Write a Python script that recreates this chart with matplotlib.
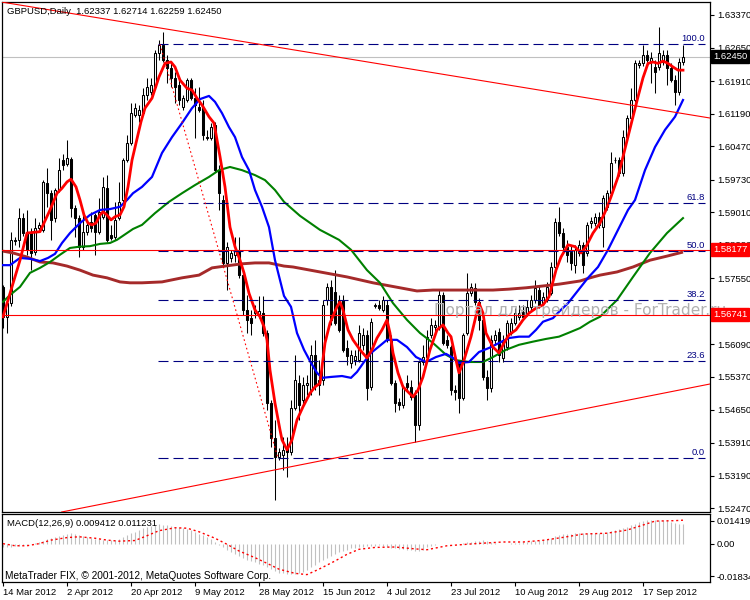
import matplotlib
matplotlib.use("Agg")
import matplotlib.pyplot as plt
import numpy as np
from matplotlib.transforms import blended_transform_factory

plt.rcParams['font.family'] = ['Liberation Sans', 'DejaVu Sans']

# ---------------- data ----------------
title_text = "GBPUSD,Daily  1.62337 1.62714 1.62259 1.62450"

opens = [1.5736, 1.5670, 1.5700, 1.5840, 1.5840, 1.5888, 1.5858, 1.5858, 1.5814, 1.5866,
         1.5862, 1.5965, 1.5943, 1.5888, 1.5950, 1.6016, 1.6007, 1.6019, 1.5910, 1.5888,
         1.5825, 1.5858, 1.5880, 1.5895, 1.5858, 1.5891, 1.5954, 1.5851, 1.5847, 1.5888,
         1.5928, 1.6016, 1.6054, 1.6116, 1.6116, 1.6120, 1.6160, 1.6167, 1.6178, 1.6253,
         1.6271, 1.6237, 1.6219, 1.6197, 1.6182, 1.6134, 1.6149, 1.6193, 1.6153, 1.6134,
         1.6131, 1.6068, 1.6065, 1.6094, 1.5994, 1.5928, 1.5788, 1.5800, 1.5807, 1.5818,
         1.5762, 1.5685, 1.5667, 1.5678, 1.5676, 1.5678, 1.5634, 1.5479, 1.5402, 1.5360,
         1.5364, 1.5380, 1.5371, 1.5468, 1.5523, 1.5486, 1.5519, 1.5508, 1.5586, 1.5519,
         1.5530, 1.5707, 1.5736, 1.5725, 1.5707, 1.5707, 1.5601, 1.5567, 1.5574, 1.5574,
         1.5608, 1.5630, 1.5515, 1.5694, 1.5696, 1.5685, 1.5696, 1.5619, 1.5523, 1.5481,
         1.5475, 1.5523, 1.5515, 1.5497, 1.5431, 1.5570, 1.5581, 1.5630, 1.5648, 1.5648,
         1.5718, 1.5619, 1.5604, 1.5508, 1.5570, 1.5490, 1.5634, 1.5722, 1.5733, 1.5703,
         1.5663, 1.5537, 1.5512, 1.5619, 1.5637, 1.5579, 1.5604, 1.5634, 1.5656, 1.5670,
         1.5681, 1.5678, 1.5692, 1.5707, 1.5729, 1.5700, 1.5707, 1.5722, 1.5780, 1.5880,
         1.5855, 1.5825, 1.5814, 1.5784, 1.5811, 1.5829, 1.5811, 1.5877, 1.5877, 1.5891,
         1.5869, 1.5913, 1.5943, 1.6016, 1.6016, 1.5988, 1.6068, 1.6109, 1.6149, 1.6226,
         1.6230, 1.6249, 1.6233, 1.6222, 1.6222, 1.6233, 1.6249, 1.6219, 1.6193, 1.6167,
         1.62337]

highs = [1.5740, 1.5714, 1.5858, 1.5847, 1.5910, 1.5899, 1.5906, 1.5866, 1.5888, 1.5880,
         1.5972, 1.5998, 1.5950, 1.5954, 1.6021, 1.6030, 1.6061, 1.6024, 1.5917, 1.5895,
         1.5895, 1.5884, 1.5902, 1.5899, 1.5932, 1.5979, 1.5983, 1.5873, 1.5924, 1.5968,
         1.6021, 1.6072, 1.6142, 1.6142, 1.6138, 1.6175, 1.6197, 1.6197, 1.6260, 1.6282,
         1.6300, 1.6249, 1.6233, 1.6211, 1.6193, 1.6160, 1.6197, 1.6197, 1.6175, 1.6178,
         1.6149, 1.6083, 1.6098, 1.6101, 1.6005, 1.5939, 1.5836, 1.5818, 1.5847, 1.5847,
         1.5773, 1.5718, 1.5685, 1.5696, 1.5716, 1.5716, 1.5641, 1.5486, 1.5442, 1.5380,
         1.5405, 1.5405, 1.5486, 1.5586, 1.5541, 1.5536, 1.5541, 1.5608, 1.5619, 1.5574,
         1.5707, 1.5744, 1.5751, 1.5773, 1.5718, 1.5718, 1.5619, 1.5597, 1.5597, 1.5652,
         1.5645, 1.5641, 1.5667, 1.5700, 1.5707, 1.5716, 1.5707, 1.5630, 1.5530, 1.5490,
         1.5519, 1.5541, 1.5530, 1.5508, 1.5574, 1.5608, 1.5641, 1.5667, 1.5663, 1.5729,
         1.5725, 1.5630, 1.5608, 1.5519, 1.5574, 1.5634, 1.5766, 1.5744, 1.5744, 1.5712,
         1.5667, 1.5552, 1.5630, 1.5641, 1.5645, 1.5630, 1.5663, 1.5667, 1.5689, 1.5696,
         1.5696, 1.5707, 1.5718, 1.5751, 1.5740, 1.5725, 1.5747, 1.5791, 1.5888, 1.5913,
         1.5866, 1.5840, 1.5829, 1.5829, 1.5840, 1.5836, 1.5880, 1.5891, 1.5899, 1.5902,
         1.5939, 1.5950, 1.6034, 1.6024, 1.6024, 1.6083, 1.6116, 1.6175, 1.6237, 1.6237,
         1.6271, 1.6260, 1.6256, 1.6237, 1.6310, 1.6260, 1.6260, 1.6230, 1.6204, 1.6242,
         1.62714]

lows = [1.5645, 1.5634, 1.5694, 1.5829, 1.5825, 1.5849, 1.5807, 1.5773, 1.5807, 1.5862,
        1.5858, 1.5913, 1.5840, 1.5880, 1.5946, 1.5994, 1.6003, 1.5891, 1.5847, 1.5803,
        1.5818, 1.5851, 1.5858, 1.5807, 1.5853, 1.5886, 1.5836, 1.5840, 1.5840, 1.5884,
        1.5924, 1.6012, 1.6050, 1.6112, 1.6101, 1.6116, 1.6149, 1.6160, 1.6173, 1.6237,
        1.6233, 1.6186, 1.6178, 1.6142, 1.6138, 1.6127, 1.6145, 1.6149, 1.6065, 1.6123,
        1.6061, 1.6061, 1.6061, 1.5990, 1.5906, 1.5784, 1.5729, 1.5791, 1.5791, 1.5755,
        1.5674, 1.5634, 1.5630, 1.5667, 1.5667, 1.5627, 1.5464, 1.5382, 1.5265, 1.5353,
        1.5331, 1.5316, 1.5364, 1.5464, 1.5442, 1.5475, 1.5497, 1.5497, 1.5508, 1.5497,
        1.5519, 1.5696, 1.5652, 1.5652, 1.5637, 1.5592, 1.5563, 1.5557, 1.5563, 1.5570,
        1.5597, 1.5486, 1.5508, 1.5689, 1.5685, 1.5681, 1.5615, 1.5519, 1.5460, 1.5464,
        1.5468, 1.5508, 1.5486, 1.5393, 1.5420, 1.5563, 1.5574, 1.5623, 1.5637, 1.5641,
        1.5608, 1.5601, 1.5497, 1.5486, 1.5457, 1.5486, 1.5630, 1.5716, 1.5696, 1.5641,
        1.5530, 1.5486, 1.5504, 1.5608, 1.5570, 1.5570, 1.5597, 1.5630, 1.5652, 1.5663,
        1.5663, 1.5672, 1.5685, 1.5700, 1.5689, 1.5694, 1.5703, 1.5718, 1.5773, 1.5849,
        1.5818, 1.5791, 1.5773, 1.5766, 1.5805, 1.5766, 1.5805, 1.5866, 1.5871, 1.5866,
        1.5825, 1.5906, 1.5939, 1.6010, 1.5981, 1.5981, 1.6061, 1.6105, 1.6145, 1.6219,
        1.6224, 1.6226, 1.6186, 1.6164, 1.6215, 1.6226, 1.6182, 1.6188, 1.6138, 1.6160,
        1.62259]

closes = [1.5670, 1.5700, 1.5840, 1.5838, 1.5888, 1.5855, 1.5818, 1.5811, 1.5866, 1.5873,
          1.5968, 1.5943, 1.5884, 1.5950, 1.5994, 1.6005, 1.6021, 1.5910, 1.5888, 1.5825,
          1.5858, 1.5873, 1.5866, 1.5858, 1.5902, 1.5957, 1.5840, 1.5844, 1.5884, 1.5924,
          1.6016, 1.6054, 1.6120, 1.6131, 1.6127, 1.6160, 1.6178, 1.6182, 1.6253, 1.6271,
          1.6237, 1.6219, 1.6197, 1.6178, 1.6149, 1.6153, 1.6193, 1.6153, 1.6138, 1.6127,
          1.6072, 1.6065, 1.6090, 1.5994, 1.5943, 1.5788, 1.5825, 1.5811, 1.5818, 1.5762,
          1.5685, 1.5663, 1.5656, 1.5685, 1.5683, 1.5634, 1.5479, 1.5402, 1.5360, 1.5371,
          1.5376, 1.5371, 1.5468, 1.5530, 1.5475, 1.5519, 1.5523, 1.5586, 1.5519, 1.5530,
          1.5696, 1.5736, 1.5663, 1.5656, 1.5641, 1.5597, 1.5583, 1.5586, 1.5583, 1.5634,
          1.5630, 1.5512, 1.5659, 1.5696, 1.5689, 1.5707, 1.5619, 1.5523, 1.5479, 1.5475,
          1.5512, 1.5515, 1.5493, 1.5431, 1.5570, 1.5581, 1.5626, 1.5652, 1.5652, 1.5718,
          1.5612, 1.5608, 1.5508, 1.5504, 1.5490, 1.5630, 1.5722, 1.5736, 1.5703, 1.5663,
          1.5537, 1.5512, 1.5619, 1.5630, 1.5586, 1.5619, 1.5656, 1.5656, 1.5678, 1.5678,
          1.5670, 1.5692, 1.5707, 1.5733, 1.5696, 1.5714, 1.5736, 1.5780, 1.5880, 1.5855,
          1.5825, 1.5807, 1.5788, 1.5818, 1.5829, 1.5784, 1.5873, 1.5882, 1.5891, 1.5873,
          1.5932, 1.5943, 1.6010, 1.6016, 1.5988, 1.6068, 1.6109, 1.6149, 1.6230, 1.6230,
          1.6249, 1.6237, 1.6242, 1.6211, 1.6253, 1.6249, 1.6219, 1.6193, 1.6167, 1.6233,
          1.62450]

# moving averages (bar index, price)
ma_red_x = [0, 4.25, 6, 9.25, 11.75, 13.5, 14.75, 16, 17, 18.25, 19.25, 20.25, 21.25, 22.25, 23.25,
            24.25, 25, 26, 27, 28, 29.25, 30.25, 31.25, 32.25, 33.25, 34.5, 35.5, 37.25, 39, 40.5,
            42, 43, 44.25, 46, 47.25, 48.5, 49.75, 51.5, 52.75, 53.5, 54.25, 55.5, 56.75, 58, 59.25,
            60.25, 61.5, 63, 64.25, 65.25, 66, 66.75, 68, 69.25, 69.75, 71, 72.25, 73.5, 75, 76.75,
            78, 79.25, 80.5, 81.75, 83.5, 84.25, 85, 86.25, 87.5, 89.25, 91, 92.25, 93.5, 94.75, 96,
            96.75, 97.5, 98.75, 100, 101.25, 102.5, 103.75, 105, 106.75, 108.5, 110, 111.25, 112,
            113.25, 114, 115.25, 117, 119, 120, 120.75, 122.5, 124, 125.25, 126.5, 128.25, 130,
            131.5, 133.25, 135, 136.5, 138.25, 139.5, 141.25, 143, 144.5, 145.75, 147.5, 149.25,
            150.75, 152, 153.75, 155, 156.25, 157.5, 158.75, 160, 161.25, 162.5, 163.75, 165,
            166.25, 167.5, 168.75, 170]
ma_red_y = [1.5670, 1.5795, 1.5855, 1.5858, 1.5906, 1.5943, 1.5954, 1.5968, 1.5974, 1.5957, 1.5928,
            1.5895, 1.5877, 1.5873, 1.5877, 1.5895, 1.5902, 1.5895, 1.5884, 1.5891, 1.5895, 1.5913,
            1.5957, 1.6016, 1.6054, 1.6101, 1.6131, 1.6153, 1.6200, 1.6230, 1.6233, 1.6222, 1.6193,
            1.6175, 1.6171, 1.6153, 1.6138, 1.6112, 1.6098, 1.6061, 1.6024, 1.5957, 1.5868, 1.5825,
            1.5795, 1.5767, 1.5722, 1.5685, 1.5670, 1.5648, 1.5619, 1.5552, 1.5479, 1.5420, 1.5398,
            1.5376, 1.5398, 1.5442, 1.5471, 1.5501, 1.5515, 1.5523, 1.5612, 1.5656, 1.5692, 1.5703,
            1.5685, 1.5641, 1.5619, 1.5597, 1.5579, 1.5597, 1.5623, 1.5641, 1.5663, 1.5634, 1.5590,
            1.5546, 1.5515, 1.5504, 1.5493, 1.5508, 1.5537, 1.5597, 1.5641, 1.5652, 1.5634, 1.5626,
            1.5574, 1.5546, 1.5574, 1.5626, 1.5700, 1.5678, 1.5634, 1.5603, 1.5590, 1.5612, 1.5630,
            1.5641, 1.5663, 1.5678, 1.5689, 1.5696, 1.5714, 1.5773, 1.5802, 1.5829, 1.5825, 1.5811,
            1.5825, 1.5855, 1.5877, 1.5906, 1.5935, 1.5979, 1.6024, 1.6068, 1.6112, 1.6156, 1.6198,
            1.6230, 1.6233, 1.6230, 1.6235, 1.6230, 1.6222, 1.6215, 1.6215]

ma_blue_x = [0, 1.75, 4.25, 6.75, 9.25, 11.25, 13, 14.75, 16.75, 19.25, 21.75, 24.25, 26.75, 29.25,
             31, 32.5, 34.75, 37.25, 39.75, 42.25, 44.75, 47.25, 49.25, 51.5, 53, 54.75, 56.5, 58,
             59.75, 61.5, 63, 64.75, 66.5, 68, 70.25, 72, 73.5, 75.25, 77, 78.5, 79.75, 82, 84.75,
             87, 88.5, 90.25, 92, 94.5, 96, 98.5, 101, 103.25, 105.75, 108.25, 110.75, 112.5, 114,
             116.5, 119, 121.5, 124, 126.5, 129, 131.5, 133.25, 135, 137.5, 139, 141.25, 146.25,
             148.75, 151.25, 153.75, 156.25, 158, 160.5, 163, 165.5, 168, 170]
ma_blue_y = [1.5784, 1.5784, 1.5800, 1.5798, 1.5793, 1.5800, 1.5809, 1.5833, 1.5855, 1.5877, 1.5895,
             1.5906, 1.5908, 1.5913, 1.5928, 1.5943, 1.5957, 1.5979, 1.6032, 1.6067, 1.6098, 1.6131,
             1.6151, 1.6158, 1.6145, 1.6120, 1.6089, 1.6067, 1.6023, 1.5994, 1.5950, 1.5913, 1.5868,
             1.5795, 1.5716, 1.5692, 1.5634, 1.5597, 1.5568, 1.5546, 1.5535, 1.5537, 1.5539, 1.5535,
             1.5548, 1.5570, 1.5590, 1.5608, 1.5619, 1.5619, 1.5603, 1.5581, 1.5570, 1.5581, 1.5588,
             1.5579, 1.5568, 1.5570, 1.5592, 1.5601, 1.5612, 1.5623, 1.5626, 1.5626, 1.5641, 1.5659,
             1.5667, 1.5681, 1.5700, 1.5756, 1.5780, 1.5818, 1.5862, 1.5906, 1.5928, 1.5994, 1.6045,
             1.6083, 1.6112, 1.6149]

ma_green_x = [0, 1.75, 4.25, 6.75, 9.25, 11.75, 14.25, 16.75, 19.25, 21.75, 24.25, 26.75, 28.5, 31,
              32.5, 34.75, 38, 41.5, 44.75, 48, 51.5, 54, 56.75, 59.75, 63, 65.5, 68, 70.25, 74.25,
              79.25, 84, 87, 91, 94.25, 97.5, 101, 104.25, 107.5, 110.75, 113.25, 116.5, 120, 122.5,
              125.75, 129, 132.5, 135.75, 139, 141.25, 144.25, 146.75, 149.25, 153.5, 157.5, 161.75,
              166, 170]
ma_green_y = [1.5703, 1.5718, 1.5736, 1.5767, 1.5778, 1.5791, 1.5807, 1.5822, 1.5825, 1.5826, 1.5831,
              1.5833, 1.5840, 1.5855, 1.5864, 1.5873, 1.5899, 1.5924, 1.5943, 1.5961, 1.5979, 1.5994,
              1.6001, 1.5994, 1.5983, 1.5972, 1.5950, 1.5924, 1.5893, 1.5862, 1.5840, 1.5818, 1.5773,
              1.5745, 1.5700, 1.5663, 1.5634, 1.5612, 1.5586, 1.5574, 1.5570, 1.5570, 1.5581, 1.5597,
              1.5608, 1.5615, 1.5621, 1.5626, 1.5634, 1.5645, 1.5659, 1.5670, 1.5707, 1.5758, 1.5811,
              1.5855, 1.5888]

ma_brown_x = [0, 2.5, 6, 9.25, 12.5, 16, 19.25, 22.5, 26, 29.25, 31.75, 34.75, 39.75, 44.75, 49,
              52.25, 55.5, 59.75, 63, 66.5, 70.25, 72.5, 79.25, 86, 92.5, 99.25, 103.5, 107.5, 114,
              122.5, 126.5, 130.75, 135, 139, 141.25, 144.25, 146.75, 149.25, 153.5, 157.5, 161.75,
              166, 170]
ma_brown_y = [1.5815, 1.5811, 1.5802, 1.5791, 1.5789, 1.5782, 1.5773, 1.5762, 1.5756, 1.5747, 1.5745,
              1.5745, 1.5747, 1.5756, 1.5762, 1.5778, 1.5782, 1.5787, 1.5789, 1.5789, 1.5782, 1.5780,
              1.5769, 1.5758, 1.5745, 1.5734, 1.5727, 1.5729, 1.5729, 1.5729, 1.5731, 1.5734, 1.5738,
              1.5742, 1.5745, 1.5749, 1.5756, 1.5762, 1.5769, 1.5780, 1.5795, 1.5804, 1.5813]

# Fibonacci retracement
fib_levels = [100.0, 61.8, 50.0, 38.2, 23.6, 0.0]
fib_high = 1.6272
fib_low = 1.5357
fib_anchor_x = [39.25, 68.75]

# horizontal lines and trend lines
hlines_red = [1.58177, 1.56741]
bid_price = 1.62450
trend_down = [(149.25, 1.6149), (176.75, 1.61092)]
trend_up = [(149.25, 1.54734), (176.75, 1.55214)]

price_ticks = [1.63370, 1.62650, 1.61910, 1.61190, 1.60470, 1.59730, 1.59010, 1.58290,
               1.57550, 1.56810, 1.56090, 1.55370, 1.54650, 1.53910, 1.53190, 1.52470]

date_pos = [0, 16, 32, 48, 64, 80, 96, 112, 128, 144, 160]
date_labels = ["14 Mar 2012", "2 Apr 2012", "20 Apr 2012", "9 May 2012", "28 May 2012",
               "15 Jun 2012", "4 Jul 2012", "23 Jul 2012", "10 Aug 2012", "29 Aug 2012",
               "17 Sep 2012"]

macd_hist = [-0.0015, -0.0018, -0.0015, -0.0012, -0.0010, -0.0008, -0.0005, 0.0000, 0.0005, 0.0008,
             0.0015, 0.0020, 0.0025, 0.0030, 0.0035, 0.0042, 0.0048, 0.0050, 0.0046, 0.0040,
             0.0035, 0.0030, 0.0027, 0.0024, 0.0020, 0.0018, 0.0018, 0.0017, 0.0018, 0.0022,
             0.0032, 0.0042, 0.0052, 0.0058, 0.0066, 0.0073, 0.0080, 0.0085, 0.0090, 0.0092,
             0.0091, 0.0090, 0.0086, 0.0082, 0.0078, 0.0073, 0.0069, 0.0063, 0.0055, 0.0048,
             0.0040, 0.0030, 0.0020, 0.0008, -0.0005, -0.0018, -0.0030, -0.0040, -0.0050, -0.0060,
             -0.0070, -0.0077, -0.0085, -0.0090, -0.0095, -0.0100, -0.0110, -0.0122, -0.0132, -0.0138,
             -0.0142, -0.0144, -0.0146, -0.0144, -0.0140, -0.0134, -0.0125, -0.0112, -0.0100, -0.0088,
             -0.0078, -0.0068, -0.0058, -0.0050, -0.0042, -0.0034, -0.0028, -0.0023, -0.0020, -0.0017,
             -0.0014, -0.0012, -0.0010, -0.0009, -0.0008, -0.0010, -0.0014, -0.0019, -0.0022, -0.0025,
             -0.0026, -0.0028, -0.0032, -0.0035, -0.0033, -0.0028, -0.0018, -0.0010, -0.0005, -0.0002,
             0.0000, 0.0000, -0.0002, -0.0003, -0.0002, 0.0002, 0.0006, 0.0010, 0.0012, 0.0015,
             0.0016, 0.0012, 0.0006, 0.0002, 0.0000, 0.0000, 0.0000, 0.0002, 0.0004, 0.0005,
             0.0007, 0.0009, 0.0012, 0.0014, 0.0016, 0.0018, 0.0020, 0.0028, 0.0036, 0.0042,
             0.0045, 0.0046, 0.0048, 0.0049, 0.0050, 0.0050, 0.0050, 0.0050, 0.0050, 0.0051,
             0.0053, 0.0056, 0.0060, 0.0065, 0.0069, 0.0073, 0.0080, 0.0088, 0.0096, 0.0103,
             0.0108, 0.0111, 0.0113, 0.0114, 0.0114, 0.0113, 0.0111, 0.0106, 0.0100, 0.0095,
             0.009412]

signal_x = [0, 3, 6, 9, 12, 16, 19, 23, 26, 29, 33, 36, 39, 43, 46, 49, 53, 56, 59, 63, 66, 69, 73,
            76, 79, 83, 86, 89, 93, 98, 103, 106, 111, 118, 125, 130, 135, 140, 145, 151, 156, 160,
            163, 168, 170]
signal_y = [0.0, -0.0010, -0.0010, 0.0, 0.0017, 0.0029, 0.0033, 0.0026, 0.0017, 0.0012, 0.0015,
            0.0038, 0.0062, 0.0076, 0.0074, 0.0057, 0.0026, -0.0003, -0.0035, -0.0067, -0.0094,
            -0.0122, -0.0142, -0.0148, -0.0122, -0.0083, -0.0051, -0.0027, -0.0018, -0.0016,
            -0.0025, -0.0029, -0.0010, 0.0, 0.0008, 0.0008, 0.0016, 0.0030, 0.0046, 0.0050,
            0.0065, 0.0089, 0.0108, 0.0110, 0.011231]

macd_label = "MACD(12,26,9) 0.009412 0.011231"
macd_tick_text = ["0.014191", "0.00", "-0.01834"]
macd_range = (-0.01834, 0.014191)
copyright_text = "MetaTrader FIX, \u00a9 2001-2012, MetaQuotes Software Corp."
watermark = "Портал для трейдеров - ForTrader.ru"

# ---------------- figure ----------------
W, H = 750, 600
fig = plt.figure(figsize=(W / 100, H / 100), dpi=100)
fig.patch.set_facecolor('white')


def rect(l, t, r, b):
    return [l / W, 1 - b / H, (r - l) / W, (b - t) / H]


ax = fig.add_axes(rect(2, 2, 710, 512))
axm = fig.add_axes(rect(2, 514, 710, 582))

fs = 6.8
RED = '#FF0000'
NAVY = '#000080'

o = np.array(opens); h = np.array(highs); l = np.array(lows); c = np.array(closes)
idx = np.arange(len(c))
up = c >= o

# candles
ax.vlines(idx, l, h, color='black', lw=0.75, zorder=2)
bottom = np.minimum(o, c)
height = np.maximum(np.abs(c - o), 0.00006)
ax.bar(idx[up], height[up], bottom=bottom[up], width=0.5, color='white',
       edgecolor='black', lw=0.75, zorder=3)
ax.bar(idx[~up], height[~up], bottom=bottom[~up], width=0.5, color='black',
       edgecolor='black', lw=0.75, zorder=3)

# bid line and horizontal lines
ax.axhline(bid_price, color='#C0C0C0', lw=0.8, zorder=1)
for p in hlines_red:
    ax.axhline(p, color=RED, lw=0.8, zorder=5)

# moving averages
ax.plot(ma_brown_x, ma_brown_y, color='#A52A2A', lw=2.1, zorder=4, solid_capstyle='butt')
ax.plot(ma_green_x, ma_green_y, color='#008000', lw=1.5, zorder=4)
ax.plot(ma_blue_x, ma_blue_y, color='#0000FF', lw=1.6, zorder=4)
ax.plot(ma_red_x, ma_red_y, color=RED, lw=2.0, zorder=4)

# fibonacci
fib_prices = [fib_low + lv / 100.0 * (fib_high - fib_low) for lv in fib_levels]
ax.hlines(fib_prices, fib_anchor_x[0] - 0.5, 175.5, colors=NAVY, lw=0.8,
          linestyles=[(0, (9, 4.5))], zorder=5)
for lv, p in zip(fib_levels, fib_prices):
    ax.text(175.5, p + 0.0002, f"{lv:.1f}", ha='right', va='bottom', color=NAVY,
            fontsize=fs, zorder=6)
ax.plot(fib_anchor_x, [fib_high, fib_low], color=RED, lw=0.8, ls=(0, (1.5, 2.5)), zorder=5)

# trend lines
ax.axline(trend_down[0], trend_down[1], color=RED, lw=0.8, zorder=5)
ax.axline(trend_up[0], trend_up[1], color=RED, lw=0.8, zorder=5)

ax.set_xlim(-0.25, 176.75)
ax.set_ylim(1.52385, 1.63656)
ax.yaxis.tick_right()
ax.set_yticks(price_ticks)
ax.set_yticklabels([f"{p:.5f}" for p in price_ticks])
ax.tick_params(axis='y', direction='out', length=3, width=0.8, pad=2, labelsize=fs,
               right=True, left=False, labelright=True, labelleft=False)
ax.tick_params(axis='x', bottom=False, labelbottom=False)
for s in ax.spines.values():
    s.set_linewidth(0.9)
    s.set_color('black')

# price labels on the right
tr = blended_transform_factory(fig.transFigure, ax.transData)
for p, fc in [(hlines_red[0], RED), (hlines_red[1], RED), (bid_price, 'black')]:
    ax.text(713 / W, p, f"{p:.5f}", transform=tr, ha='left', va='center', color='white',
            fontsize=fs, clip_on=False, zorder=20,
            bbox=dict(boxstyle='square,pad=0.22', fc=fc, ec=fc))

# watermark
ax.text(434 / W, 1 - 310 / H, watermark, transform=fig.transFigure, ha='left', va='center',
        fontsize=11.1, color='#b0b0b0', family='DejaVu Sans', clip_on=False, zorder=15)

# title
fig.text(7 / W, 1 - 11 / H, title_text, fontsize=fs, ha='left', va='center', color='black')

# MACD panel
axm.vlines(idx, 0, macd_hist, color='#C0C0C0', lw=0.8, zorder=2)
axm.plot(signal_x, signal_y, color=RED, lw=1.0, ls=(0, (1.5, 2)), zorder=3)
axm.set_xlim(-0.25, 176.75)
axm.set_ylim(*macd_range)
span = macd_range[1] - macd_range[0]
axm.set_yticks([macd_range[1] - span * 7 / 68, 0.0, macd_range[0] + span * 6 / 68])
axm.set_yticklabels(macd_tick_text)
axm.yaxis.tick_right()
axm.tick_params(axis='y', direction='out', length=3, width=0.8, pad=1.5, labelsize=fs,
                right=True, left=False, labelright=True, labelleft=False)
axm.set_xticks(date_pos)
axm.set_xticklabels(date_labels, ha='left')
axm.tick_params(axis='x', direction='out', length=3, width=0.8, pad=1.5, labelsize=fs)
for s in axm.spines.values():
    s.set_linewidth(0.9)
    s.set_color('black')

fig.text(7 / W, 1 - 523 / H, macd_label, fontsize=fs, ha='left', va='center')
fig.text(5 / W, 1 - 576 / H, copyright_text, fontsize=7.3, ha='left', va='center')

fig.savefig('out.png', dpi=100)
